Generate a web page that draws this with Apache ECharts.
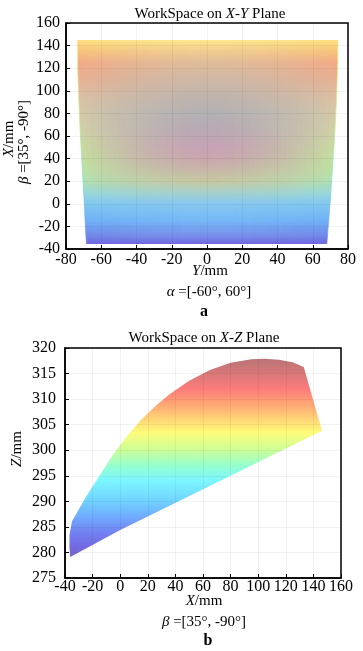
<!DOCTYPE html>
<html><head><meta charset="utf-8">
<script src="https://cdn.jsdelivr.net/npm/echarts@6/dist/echarts.min.js"></script>
<style>html,body{margin:0;padding:0;background:#fff}#c{width:363px;height:651px}</style>
</head><body><div id="c"></div>
<script>
// ---------- Chart a: workspace on X-Y plane, boundary points [Y, X] (mm) ----------
const xyLeftEdge  = [[-73.5,145],[-73.4,120],[-72.7,90],[-71.8,60],[-70.7,30],[-69.6,0],[-68.9,-23],[-68.4,-35.5]];
const xyRightEdge = [[74.3,145],[74.1,120],[73.4,90],[72.4,60],[71.1,30],[69.8,0],[68.6,-23],[68.0,-35.5]];
const xyXTicks = [-80,-60,-40,-20,0,20,40,60,80];
const xyYTicks = [-40,-20,0,20,40,60,80,100,120,140,160];

// ---------- Chart b: workspace on X-Z plane, boundary points [X, Z] (mm) ----------
const xzTopEdge = [[-34.9,286.1],[-25,290.8],[-15,295.0],[-5,299.2],[5,302.8],[15,305.9],[25,308.5],[35,310.8],[50,313.6],[65,315.7],[80,317.1],[95,317.8],[105,317.9],[115,317.7],[125,317.2],[133,316.3],[146.2,303.8]];
const xzBottomEdge = [[146.2,303.8],[0,284.4],[-36.2,279.1],[-36.8,281.0],[-36.7,283.5],[-34.9,286.1]];
const xzXTicks = [-40,-20,0,20,40,60,80,100,120,140,160];
const xzYTicks = [275,280,285,290,295,300,305,310,315,320];

// ---------- colour styles ----------
const xyColorLevels = [145,135,125,110,95,80,65,50,40,30,20,10,0,-15,-28,-35.5];
const xyCenterColors = ['#fde78e','#f0cc90','#e0bc9a','#cfb8a6','#c0b4ac','#b3b1b4','#b9a9b5','#c6a2b4','#c8a6ae','#c8b6a8','#c6c8a2','#a8d0ca','#88c8f0','#74b8f6','#7890ec','#7068e0'];
const xyEdgeColors   = ['#fde080','#f8c27a','#f2aa88','#e8b092','#dcc0a2','#d4c8a8','#d0d0a8','#c8daa0','#c2dea0','#bee0a4','#b0e0b2','#98d8d8','#80c8f0','#70b0f8','#7088e8','#7068e0'];
const xzColorLevels = [317.9,315,312,309,306,303.5,300,297,294,290,287,284,281,279.1];
const xzColors = ['#b87476','#d87878','#fc7b7b','#ffa674','#ffd676','#fffb7a','#ccff98','#96ffd0','#7cf6ff','#70d2ff','#70abff','#7282f2','#7468e2','#7668c8'];

const FONT = '"Liberation Serif","Times New Roman",serif';

function hex2rgb(h){return [parseInt(h.substr(1,2),16),parseInt(h.substr(3,2),16),parseInt(h.substr(5,2),16)];}
function mix(a,b,w){const A=hex2rgb(a),B=hex2rgb(b);return 'rgb('+A.map((v,i)=>Math.round(v+(B[i]-v)*w)).join(',')+')';}

function renderXY(params, api){
  if(params.dataIndex!==0) return null;
  const N=48, children=[];
  const n=xyLeftEdge.length;
  const top=xyLeftEdge[0][1], bot=xyLeftEdge[n-1][1];
  function at(k,t){const L=xyLeftEdge[k],R=xyRightEdge[k];return api.coord([L[0]+t*(R[0]-L[0]), L[1]+t*(R[1]-L[1])]);}
  for(let i=0;i<N;i++){
    const t0=i/N, t1=Math.min(1,(i+1)/N+0.006);
    const pts=[];
    for(let k=0;k<n;k++) pts.push(at(k,t0));
    for(let k=n-1;k>=0;k--) pts.push(at(k,t1));
    const s=Math.abs((i+0.5)/N*2-1);
    const w=Math.pow(s,1.7);
    const stops=xyColorLevels.map((X,j)=>({offset:(top-X)/(top-bot), color:mix(xyCenterColors[j], xyEdgeColors[j], w)}));
    children.push({type:'polygon', shape:{points:pts}, style:{fill:new echarts.graphic.LinearGradient(0,0,0,1,stops)}});
  }
  const edgeStops=[{offset:0,color:'rgba(250,230,120,0.6)'},{offset:0.45,color:'rgba(190,235,150,0.8)'},{offset:0.7,color:'rgba(120,230,220,0.8)'},{offset:1,color:'rgba(110,120,230,0.6)'}];
  children.push({type:'polyline', shape:{points:xyLeftEdge.map(p=>api.coord(p))}, style:{fill:null, stroke:new echarts.graphic.LinearGradient(0,0,0,1,edgeStops), lineWidth:1}});
  children.push({type:'polyline', shape:{points:xyRightEdge.map(p=>api.coord(p))}, style:{fill:null, stroke:new echarts.graphic.LinearGradient(0,0,0,1,edgeStops), lineWidth:1}});
  return {type:'group', children};
}

function renderXZ(params, api){
  if(params.dataIndex!==0) return null;
  const pts=xzTopEdge.concat(xzBottomEdge.slice(1)).map(p=>api.coord(p));
  const top=xzColorLevels[0], bot=xzColorLevels[xzColorLevels.length-1];
  const stops=xzColorLevels.map((z,j)=>({offset:(top-z)/(top-bot), color:xzColors[j]}));
  return {type:'polygon', shape:{points:pts}, style:{fill:new echarts.graphic.LinearGradient(0,0,0,1,stops)}};
}

function axisCommon(extra){
  return Object.assign({
    type:'value', z:5,
    axisLine:{show:true, onZero:false, lineStyle:{color:'#000', width:1.5}},
    axisTick:{show:true, inside:true, length:4, lineStyle:{color:'#000', width:1}},
    splitLine:{show:true, lineStyle:{color:'rgba(0,0,0,0.05)', width:1}}
  }, extra);
}
const LBL = {color:'#000', fontFamily:FONT, fontSize:16};

const chart = echarts.init(document.getElementById('c'));
chart.setOption({
  animation:false,
  backgroundColor:'#fff',
  grid:[
    {left:66, top:23, width:282, height:226, show:true, borderColor:'#000', borderWidth:1.5, backgroundColor:'transparent'},
    {left:65, top:348, width:276, height:230, show:true, borderColor:'#000', borderWidth:1.5, backgroundColor:'transparent'}
  ],
  xAxis:[
    axisCommon({gridIndex:0, min:xyXTicks[0], max:xyXTicks[xyXTicks.length-1], interval:20, axisLabel:Object.assign({margin:3}, LBL)}),
    axisCommon({gridIndex:1, min:xzXTicks[0], max:xzXTicks[xzXTicks.length-1], interval:20, axisLabel:Object.assign({margin:1}, LBL)})
  ],
  yAxis:[
    axisCommon({gridIndex:0, min:xyYTicks[0], max:xyYTicks[xyYTicks.length-1], interval:20, axisLabel:Object.assign({margin:6}, LBL)}),
    axisCommon({gridIndex:1, min:xzYTicks[0], max:xzYTicks[xzYTicks.length-1], interval:5, axisLabel:Object.assign({margin:9}, LBL)})
  ],
  series:[
    {type:'custom', xAxisIndex:0, yAxisIndex:0, z:2, silent:true, clip:false, renderItem:renderXY, data:xyLeftEdge.concat(xyRightEdge)},
    {type:'custom', xAxisIndex:1, yAxisIndex:1, z:2, silent:true, clip:false, renderItem:renderXZ, data:xzTopEdge.concat(xzBottomEdge)}
  ],
  graphic:[
    {type:'text', x:210, y:14, style:{text:'WorkSpace on {i|X-Y} Plane', font:'15px '+FONT, fill:'#000', align:'center', verticalAlign:'middle', rich:{i:{fontStyle:'italic', fontSize:15, fontFamily:FONT}}}},
    {type:'text', x:210, y:271, style:{text:'{i|Y}/mm', font:'15px '+FONT, fill:'#000', align:'center', verticalAlign:'middle', rich:{i:{fontStyle:'italic', fontSize:15, fontFamily:FONT}}}},
    {type:'text', x:209, y:292, style:{text:'{i|α} =[-60°, 60°]', font:'15px '+FONT, fill:'#000', align:'center', verticalAlign:'middle', rich:{i:{fontStyle:'italic', fontSize:15, fontFamily:FONT}}}},
    {type:'text', x:204, y:312, style:{text:'a', font:'bold 16px '+FONT, fill:'#000', align:'center', verticalAlign:'middle'}},
    {type:'text', x:9, y:139, rotation:Math.PI/2, style:{text:'{i|X}/mm', font:'15px '+FONT, fill:'#000', align:'center', verticalAlign:'middle', rich:{i:{fontStyle:'italic', fontSize:15, fontFamily:FONT}}}},
    {type:'text', x:24, y:142, rotation:Math.PI/2, style:{text:'{i|β} =[35°, -90°]', font:'15px '+FONT, fill:'#000', align:'center', verticalAlign:'middle', rich:{i:{fontStyle:'italic', fontSize:15, fontFamily:FONT}}}},

    {type:'text', x:204, y:338, style:{text:'WorkSpace on {i|X-Z} Plane', font:'15px '+FONT, fill:'#000', align:'center', verticalAlign:'middle', rich:{i:{fontStyle:'italic', fontSize:15, fontFamily:FONT}}}},
    {type:'text', x:204, y:601, style:{text:'{i|X}/mm', font:'15px '+FONT, fill:'#000', align:'center', verticalAlign:'middle', rich:{i:{fontStyle:'italic', fontSize:15, fontFamily:FONT}}}},
    {type:'text', x:204, y:622, style:{text:'{i|β} =[35°, -90°]', font:'15px '+FONT, fill:'#000', align:'center', verticalAlign:'middle', rich:{i:{fontStyle:'italic', fontSize:15, fontFamily:FONT}}}},
    {type:'text', x:208, y:641, style:{text:'b', font:'bold 16px '+FONT, fill:'#000', align:'center', verticalAlign:'middle'}},
    {type:'text', x:17, y:449, rotation:Math.PI/2, style:{text:'{i|Z}/mm', font:'15px '+FONT, fill:'#000', align:'center', verticalAlign:'middle', rich:{i:{fontStyle:'italic', fontSize:15, fontFamily:FONT}}}}
  ]
});
</script>
</body></html>
